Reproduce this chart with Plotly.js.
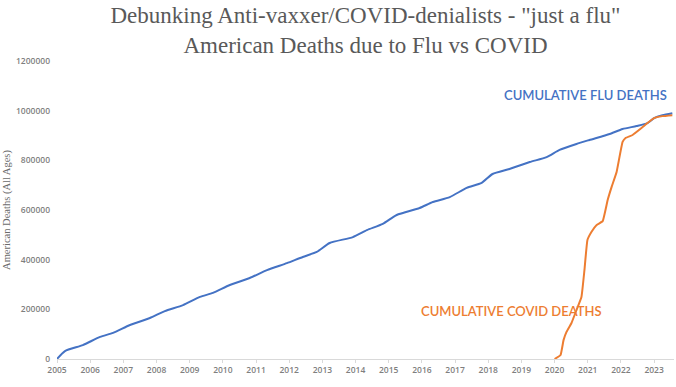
<!DOCTYPE html>
<html>
<head>
<meta charset="utf-8">
<script src="https://cdn.plot.ly/plotly-3.0.1.min.js"></script>
<style>html,body{margin:0;padding:0;background:#fff;}#chart{width:676px;height:387px;}</style>
</head>
<body>
<div id="chart"></div>
<script>
// Cumulative flu deaths (year as decimal, deaths)
const fluYears = [2005.0, 2005.24, 2005.78, 2006.30, 2006.69, 2007.20, 2007.80, 2008.25, 2008.80, 2009.31, 2009.70, 2010.21, 2010.81, 2011.33, 2011.93, 2012.41, 2012.83, 2013.22, 2013.92, 2014.34, 2014.82, 2015.24, 2015.93, 2016.33, 2016.84, 2017.35, 2017.80, 2018.13, 2018.64, 2019.25, 2019.76, 2020.15, 2020.66, 2021.05, 2021.66, 2022.05, 2022.47, 2022.80, 2023.0, 2023.25, 2023.55];
const fluDeaths = [0, 32000, 56000, 89000, 105000, 137000, 165000, 193000, 217000, 250000, 266000, 298000, 326000, 358000, 386000, 411000, 431000, 467000, 491000, 519000, 544000, 580000, 608000, 632000, 652000, 689000, 709000, 745000, 765000, 793000, 813000, 842000, 866000, 882000, 906000, 926000, 938000, 950000, 970000, 982000, 990000];

// Cumulative COVID deaths
const covidYears = [2020.0, 2020.18, 2020.27, 2020.36, 2020.51, 2020.66, 2020.81, 2020.90, 2020.99, 2021.11, 2021.27, 2021.45, 2021.60, 2021.72, 2021.87, 2022.05, 2022.14, 2022.35, 2022.62, 2022.80, 2023.0, 2023.25, 2023.55];
const covidDeaths = [0, 16000, 76000, 109000, 145000, 197000, 250000, 358000, 479000, 511000, 540000, 555000, 640000, 693000, 753000, 874000, 890000, 902000, 930000, 950000, 970000, 978000, 982000];

const yearTicks = [2005,2006,2007,2008,2009,2010,2011,2012,2013,2014,2015,2016,2017,2018,2019,2020,2021,2022,2023];
const yTicks = [0,200000,400000,600000,800000,1000000,1200000];

const traces = [
  {x: fluYears, y: fluDeaths, type: 'scatter', mode: 'lines', name: 'Cumulative Flu Deaths',
   line: {color: '#4472C4', width: 2, shape: 'spline', smoothing: 0.6}},
  {x: covidYears, y: covidDeaths, type: 'scatter', mode: 'lines', name: 'Cumulative COVID Deaths',
   line: {color: '#ED7D31', width: 2, shape: 'spline', smoothing: 0.3}}
];

const tickFont = {family: 'Open Sans, sans-serif', size: 8.5, color: '#7f7f7f', weight: 600};

const layout = {
  width: 676, height: 387,
  margin: {l: 57, r: 2, t: 61, b: 28},
  paper_bgcolor: '#ffffff', plot_bgcolor: '#ffffff',
  showlegend: false,
  title: {
    text: 'Debunking Anti-vaxxer/COVID-denialists - "just a flu"<br>American Deaths due to Flu vs COVID',
    font: {family: 'Liberation Serif, serif', size: 23, color: '#595959'},
    x: 0.5, xanchor: 'center', xref: 'paper',
    y: 0.94, yanchor: 'top', yref: 'container'
  },
  xaxis: {
    range: [2005, 2023.6], tickvals: yearTicks, ticktext: yearTicks.map(String),
    showgrid: false, zeroline: false, showline: true, linecolor: '#d9d9d9', linewidth: 1,
    ticks: 'outside', ticklen: 3, tickcolor: '#d9d9d9', tickfont: tickFont
  },
  yaxis: {
    range: [0, 1200000], tickvals: yTicks, ticktext: yTicks.map(String),
    showgrid: false, zeroline: false, showline: false, ticks: '',
    ticklabelstandoff: 6, tickfont: tickFont,
    title: {text: 'American Deaths (All Ages)', font: {family: 'Liberation Serif, serif', size: 10.5, color: '#6b6b6b'}, standoff: 3}
  },
  annotations: [
    {text: 'CUMULATIVE FLU DEATHS', x: 2023.45, xref: 'x', xanchor: 'right', y: 1065000, yref: 'y', yanchor: 'middle', showarrow: false,
     font: {family: 'Lato, sans-serif', size: 13, color: '#4472C4', weight: 600}},
    {text: 'CUMULATIVE COVID DEATHS', x: 2015.9, xref: 'x', xanchor: 'left', y: 193000, yref: 'y', yanchor: 'middle', showarrow: false,
     font: {family: 'Lato, sans-serif', size: 13, color: '#ED7D31', weight: 600}}
  ]
};

Plotly.newPlot('chart', traces, layout, {displayModeBar: false, staticPlot: true});
</script>
</body>
</html>
